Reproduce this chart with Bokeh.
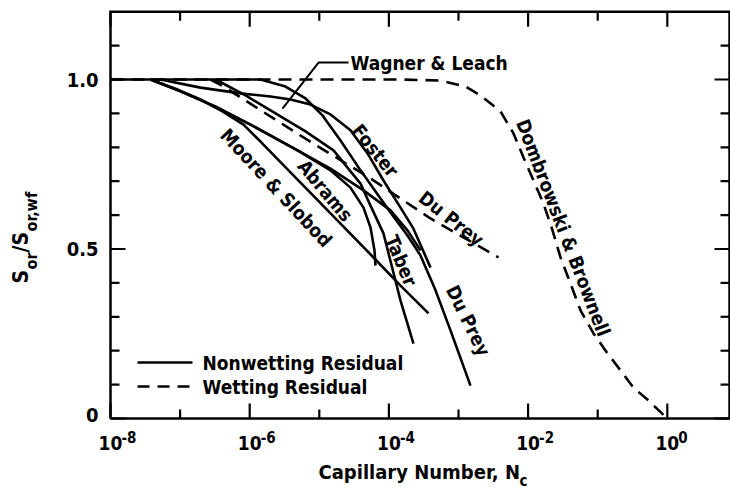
import numpy as np
from bokeh.plotting import figure
from bokeh.models import Range1d
from bokeh.core.properties import value
from bokeh.embed import file_html
from bokeh.resources import INLINE

FONT = "DejaVu Sans Condensed, DejaVu Sans, sans-serif"

# ---- data: log10 of capillary number and S_or / S_or,wf for each curve ----
moore_log_nc = [-7.425, -7.066, -6.707, -6.391, -6.089, -5.845, -5.270, -4.695, -4.221, -3.833, -3.431]
moore_s      = [1.000, 0.973, 0.941, 0.906, 0.867, 0.817, 0.696, 0.575, 0.475, 0.392, 0.310]

abrams_log_nc = [-7.425, -6.994, -6.491, -5.989, -5.313, -4.839, -4.552, -4.365, -4.264, -4.207, -4.193]
abrams_s      = [1.000, 0.965, 0.920, 0.867, 0.791, 0.732, 0.681, 0.622, 0.563, 0.496, 0.451]

wagner_log_nc = [-7.425, -6.994, -6.491, -5.989, -5.313, -4.839, -4.365, -3.977, -3.733, -3.546]
wagner_s      = [1.000, 0.965, 0.920, 0.867, 0.791, 0.737, 0.673, 0.614, 0.555, 0.496]

taber_log_nc = [-6.491, -6.060, -5.629, -5.198, -4.796, -4.408, -4.264, -4.078, -3.833, -3.647]
taber_s      = [1.000, 0.953, 0.900, 0.847, 0.791, 0.693, 0.628, 0.546, 0.348, 0.221]

foster_log_nc = [-7.282, -6.707, -6.132, -5.701, -5.414, -5.126, -4.839, -4.552, -4.307, -4.078, -3.833, -3.647, -3.402]
foster_s      = [1.000, 0.976, 0.959, 0.950, 0.941, 0.926, 0.897, 0.850, 0.782, 0.702, 0.622, 0.560, 0.445]

duprey_nw_log_nc = [-8.0, -5.845, -5.486, -5.198, -4.954, -4.695, -4.408, -4.049, -3.733, -3.546, -3.330, -3.115, -2.828]
duprey_nw_s      = [1.000, 1.000, 0.979, 0.944, 0.894, 0.820, 0.732, 0.628, 0.540, 0.481, 0.378, 0.260, 0.097]

# wetting-phase residuals (dashed)
duprey_w_log_nc = [-6.563, -6.348, -6.132, -5.227, -4.264, -3.402, -2.425]
duprey_w_s      = [1.000, 0.976, 0.947, 0.829, 0.708, 0.590, 0.475]

dombrowski_log_nc = [-8.0, -3.833, -3.259, -2.899, -2.684, -2.397, -2.210, -2.066, -1.922, -1.779,
                     -1.649, -1.534, -1.391, -1.247, -1.060, -0.859, -0.672, -0.486, -0.270, 0.0]
dombrowski_s      = [1.000, 1.000, 0.997, 0.979, 0.953, 0.906, 0.841, 0.770, 0.702, 0.634,
                     0.555, 0.475, 0.398, 0.319, 0.251, 0.192, 0.142, 0.091, 0.053, 0.0]

# leader from the "Wagner & Leach" caption to its curve
leader_log_nc = [-4.580, -5.011, -5.529]
leader_s      = [1.050, 1.050, 0.914]

# axes
x_lim_log = (-8.0, 0.894)
y_lim = (0.0, 1.2)
x_major = [-8, -6, -4, -2, 0]
x_minor = [-7, -5, -3, -1]
y_major = [0.0, 0.5, 1.0]
y_major_labels = ["0", "0.5", "1.0"]
y_minor = [0.1, 0.2, 0.3, 0.4, 0.6, 0.7, 0.8, 0.9, 1.1]

# ---- page geometry (pixels) ----
W, H = 730, 488
FRAME_L, FRAME_B = 110, 418          # frame left / bottom edge in page pixels
PX_PER_DECADE = 69.6
PX_PER_UNIT = 339.0
MAJOR_LEN, MINOR_LEN = 15, 9


def nc(logs):
    return 10.0 ** np.asarray(logs, dtype=float)


def dx(px):
    """log10 offset for a horizontal pixel distance"""
    return px / PX_PER_DECADE


def dy(px):
    """S offset for a vertical pixel distance"""
    return px / PX_PER_UNIT


# the plotting frame spans the whole page so that the axis texts drawn
# around the box are not clipped
x_lo = x_lim_log[0] - dx(FRAME_L)
x_hi = x_lim_log[0] + dx(W - FRAME_L)
y_lo = y_lim[0] - dy(H - FRAME_B)
y_hi = y_lim[0] + dy(FRAME_B)

p = figure(width=W, height=H, x_axis_type="log",
           x_range=Range1d(10 ** x_lo, 10 ** x_hi), y_range=Range1d(y_lo, y_hi),
           x_axis_location=None, y_axis_location=None,
           output_backend="svg", toolbar_location=None, min_border=0)
p.background_fill_color = "white"
p.border_fill_color = "white"
p.outline_line_color = None
p.grid.visible = False

INK = "black"

# ---- box and inward ticks ----
x0, x1 = nc(x_lim_log[0]), nc(x_lim_log[1])
y0, y1 = y_lim
p.line([x0, x1, x1, x0, x0], [y0, y0, y1, y1, y0], line_color=INK, line_width=2.5,
       line_join="miter")

for ticks, length in [(x_major, MAJOR_LEN), (x_minor, MINOR_LEN)]:
    t = nc(ticks)
    p.segment(t, np.full(len(t), y0), t, np.full(len(t), y0 + dy(length)),
              line_color=INK, line_width=2.2)
    p.segment(t, np.full(len(t), y1), t, np.full(len(t), y1 - dy(length)),
              line_color=INK, line_width=2.2)

for ticks, length in [(y_major, MAJOR_LEN), (y_minor, MINOR_LEN)]:
    v = np.asarray(ticks)
    n = len(v)
    p.segment(np.full(n, x0), v, np.full(n, x0 * 10 ** dx(length)), v,
              line_color=INK, line_width=2.2)
    p.segment(np.full(n, x1), v, np.full(n, x1 / 10 ** dx(length)), v,
              line_color=INK, line_width=2.2)


def put(texts, xs, ys, size=19, angle=0.0, align="center", baseline="middle"):
    p.text(x=list(xs), y=list(ys), text=list(texts), angle=np.deg2rad(angle),
           text_font=value(FONT), text_font_style="bold", text_font_size=f"{size}px",
           text_color=INK, text_align=align, text_baseline=baseline)


# y tick labels (the zero sits a little above its tick)
y_label_pos = [v + (dy(4) if v == 0 else 0.0) for v in y_major]
put(y_major_labels, [x0 / 10 ** dx(12)] * len(y_major), y_label_pos, size=20, align="right")

# x tick labels: 10 with a raised exponent
put(["10"] * len(x_major), nc(x_major), [y0 - dy(24)] * len(x_major), size=19)
put([str(e) for e in x_major], nc(np.array(x_major) + dx(11)), [y0 - dy(12)] * len(x_major),
    size=15, align="left", baseline="top")

# x axis title with subscript
put(["Capillary Number, N"], [nc(x_lim_log[0] + dx(208))], [y0 - dy(53)], size=20,
    align="left")
put(["c"], [nc(x_lim_log[0] + dx(409))], [y0 - dy(62)], size=15, align="left")

# y axis title, read bottom to top, with subscripts
y_title_main = nc(x_lim_log[0] - dx(90))
y_title_sub = nc(x_lim_log[0] - dx(79))
put(["S", "/S"], [y_title_main] * 2, [dy(135), dy(166)], size=21, angle=90, align="left")
put(["or", "or,wf"], [y_title_sub] * 2, [dy(149), dy(187)], size=16, angle=90, align="left")

# ---- curves ----
for xs, ys in [(moore_log_nc, moore_s), (abrams_log_nc, abrams_s),
               (wagner_log_nc, wagner_s), (taber_log_nc, taber_s),
               (foster_log_nc, foster_s), (duprey_nw_log_nc, duprey_nw_s)]:
    p.line(nc(xs), ys, line_color=INK, line_width=2.6)

for xs, ys in [(duprey_w_log_nc, duprey_w_s), (dombrowski_log_nc, dombrowski_s)]:
    p.line(nc(xs), ys, line_color=INK, line_width=2.6, line_dash="13 8")

p.line(nc(leader_log_nc), leader_s, line_color=INK, line_width=2)

# curve captions
put(["Wagner & Leach"], [nc(-4.552)], [1.050], size=19, align="left")
put(["Foster"], [nc(-4.193)], [0.791], size=19, angle=-51)
put(["Du Prey"], [nc(-3.101)], [0.590], size=19, angle=-38)
put(["Abrams"], [nc(-4.911)], [0.673], size=19, angle=-50)
put(["Moore & Slobod"], [nc(-5.615)], [0.681], size=19, angle=-47)
put(["Taber"], [nc(-3.819)], [0.466], size=19, angle=-67)
put(["Du Prey"], [nc(-2.856)], [0.289], size=19, angle=-64)
put(["Dombrowski & Brownell"], [nc(-1.491)], [0.563], size=19, angle=-69)

# ---- legend ----
leg_x = nc([x_lim_log[0] + dx(27), x_lim_log[0] + dx(82)])
leg_solid_y = dy(FRAME_B - 362)
leg_dash_y = dy(FRAME_B - 386)
p.line(leg_x, [leg_solid_y] * 2, line_color=INK, line_width=2.6)
p.line(leg_x, [leg_dash_y] * 2, line_color=INK, line_width=2.6, line_dash="12 8")
put(["Nonwetting Residual", "Wetting Residual"], [nc(x_lim_log[0] + dx(92))] * 2,
    [leg_solid_y, leg_dash_y], size=19, align="left")

open("out.html", "w").write(file_html(p, INLINE))
